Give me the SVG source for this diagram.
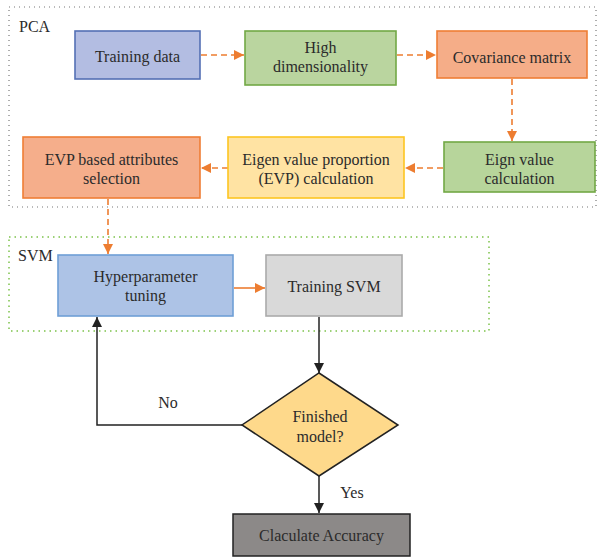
<svg xmlns="http://www.w3.org/2000/svg" width="597" height="557" viewBox="0 0 597 557">
<defs>
<marker id="ao" markerWidth="10" markerHeight="10" refX="10" refY="5" orient="auto" markerUnits="userSpaceOnUse"><path d="M0,0 L10,5 L0,10 Z" fill="#ed7d31"/></marker>
<marker id="ab" markerWidth="10" markerHeight="10" refX="10" refY="5" orient="auto" markerUnits="userSpaceOnUse"><path d="M0,0 L10,5 L0,10 Z" fill="#222"/></marker>
</defs>
<style>
text{font-family:"Liberation Serif","Times New Roman",serif;font-size:16px;fill:#2b2b2b;text-anchor:middle}
.lbl{text-anchor:start}
.od{fill:none;stroke:#ed7d31;stroke-width:1.6;stroke-dasharray:6 4;marker-end:url(#ao)}
.os{fill:none;stroke:#ed7d31;stroke-width:1.6;marker-end:url(#ao)}
.bk{fill:none;stroke:#222;stroke-width:1.5;marker-end:url(#ab)}
.n{stroke-width:1.6}
</style>
<rect width="597" height="557" fill="#fff"/>
<g id="pca-group">
<rect x="9" y="7" width="587" height="200" fill="none" stroke="#777" stroke-width="1.2" stroke-dasharray="1 4"/>
<text class="lbl" x="19" y="32">PCA</text>
</g>
<g id="svm-group">
<rect x="9" y="237" width="480" height="94" fill="none" stroke="#7cc24a" stroke-width="1.5" stroke-dasharray="1.5 4"/>
<text class="lbl" x="18" y="261">SVM</text>
</g>
<g id="connectors">
<line class="od" x1="201" y1="55" x2="244" y2="55"/>
<line class="od" x1="397" y1="55" x2="436" y2="55"/>
<line class="od" x1="512" y1="79" x2="512" y2="141"/>
<line class="od" x1="443" y1="168" x2="405" y2="168"/>
<line class="od" x1="228" y1="168" x2="201" y2="168"/>
<line class="od" x1="108" y1="199" x2="108" y2="254"/>
<line class="os" x1="234" y1="288" x2="265" y2="288"/>
<line class="bk" x1="319" y1="317" x2="319" y2="373"/>
<polyline class="bk" points="242,425 97,425 97,317"/>
<line class="bk" x1="319" y1="476" x2="319" y2="513"/>
<text x="168" y="408">No</text>
<text x="352" y="498">Yes</text>
</g>
<g id="training-data">
<rect class="n" x="75" y="31" width="125" height="48" fill="#b3bde2" stroke="#5470b5"/>
<text x="137.5" y="62">Training data</text>
</g>
<g id="high-dim">
<rect class="n" x="245" y="31" width="151" height="54" fill="#bad59f" stroke="#72a845"/>
<text x="320.5" y="53">High</text>
<text x="320.5" y="72">dimensionality</text>
</g>
<g id="covariance">
<rect class="n" x="437" y="31" width="150" height="47" fill="#f5ad88" stroke="#ef7e35"/>
<text x="512" y="63">Covariance matrix</text>
</g>
<g id="eign-value">
<rect class="n" x="444" y="142" width="151" height="50" fill="#b7d59b" stroke="#72a845"/>
<text x="519.5" y="165">Eign value</text>
<text x="519.5" y="184">calculation</text>
</g>
<g id="evp-calc">
<rect class="n" x="228" y="137" width="176" height="61" fill="#ffe3a3" stroke="#fdc521"/>
<text x="316" y="165">Eigen value proportion</text>
<text x="316" y="184">(EVP) calculation</text>
</g>
<g id="evp-select">
<rect class="n" x="23" y="137" width="177" height="61" fill="#f5ae8b" stroke="#ef7e35"/>
<text x="111.5" y="165">EVP based attributes</text>
<text x="111.5" y="184">selection</text>
</g>
<g id="hyperparameter">
<rect class="n" x="58" y="255" width="175" height="61" fill="#adc3e6" stroke="#6e9fd6"/>
<text x="145.5" y="282">Hyperparameter</text>
<text x="145.5" y="301">tuning</text>
</g>
<g id="training-svm">
<rect class="n" x="266" y="255" width="136" height="61" fill="#d9d9d9" stroke="#aaaaaa"/>
<text x="334" y="292">Training SVM</text>
</g>
<g id="finished">
<polygon points="319,373 398,425 319,476 242,425" fill="#fed98b" stroke="#222" stroke-width="1.5"/>
<text x="320" y="422">Finished</text>
<text x="320" y="442">model?</text>
</g>
<g id="accuracy">
<rect x="233" y="514" width="177" height="42" fill="#8c8988" stroke="#222" stroke-width="1.5"/>
<text x="321.5" y="541">Claculate Accuracy</text>
</g>
</svg>
